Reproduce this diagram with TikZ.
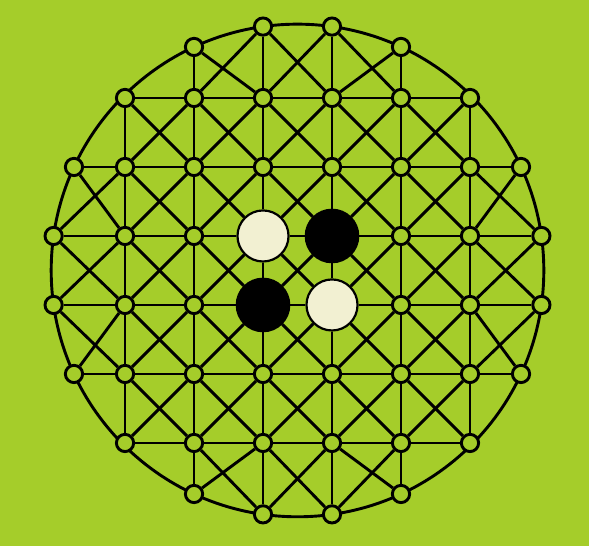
\documentclass[tikz,border=0pt]{standalone}
\usetikzlibrary{positioning}
\definecolor{boardgreen}{RGB}{165,205,42}
\definecolor{stonecream}{RGB}{242,240,210}

\begin{document}
\begin{tikzpicture}[line width=1.2pt,
    spot/.style={circle, draw, fill=boardgreen, inner sep=0pt, minimum size=0.25cm},
    whitestone/.style={circle, draw, line width=0.9pt, fill=stonecream, inner sep=0pt, minimum size=0.74cm},
    blackstone/.style={circle, draw, fill=black, inner sep=0pt, minimum size=0.75cm},
]
\def\R{3.57}
\fill[boardgreen, use as bounding box] (-4.312,-3.993) rectangle (4.225,3.920);
% rim of the board
\draw (0,0) circle (\R);
% points, the outer ones sit on the rim
\foreach \r/\lo/\hi in {0/2/5,1/1/6,2/0/7,3/0/7,4/0/7,5/0/7,6/1/6,7/2/5}
  \foreach \c in {\lo,...,\hi}{
    \pgfmathsetmacro\px{\c-3.5}
    \pgfmathsetmacro\py{3.5-\r}
    \pgfmathsetmacro\px{\c==0 ? -sqrt(\R*\R-\py*\py) : (\c==7 ? sqrt(\R*\R-\py*\py) : \px)}
    \pgfmathsetmacro\py{\r==0 ? sqrt(\R*\R-\px*\px) : (\r==7 ? -sqrt(\R*\R-\px*\px) : \py)}
    \pgfmathtruncatemacro\stone{and(or(\r==3,\r==4),or(\c==3,\c==4))}
    \ifnum\stone=0 \node[spot] (n-\c-\r) at (\px,\py) {};\fi
  }
% stones in the middle
\node[whitestone] (n-3-3) at (-0.5,0.5) {};
\node[blackstone] (n-4-3) at (0.5,0.5) {};
\node[blackstone] (n-3-4) at (-0.5,-0.5) {};
\node[whitestone] (n-4-4) at (0.5,-0.5) {};
% rows
\foreach \r/\lo/\hi in {1/1/5,2/0/6,3/0/6,4/0/6,5/0/6,6/1/5}
  \foreach \c in {\lo,...,\hi}{
    \pgfmathtruncatemacro\cc{\c+1}
    \draw (n-\c-\r) -- (n-\cc-\r);
  }
% columns
\foreach \c/\lo/\hi in {1/1/5,2/0/6,3/0/6,4/0/6,5/0/6,6/1/5}
  \foreach \r in {\lo,...,\hi}{
    \pgfmathtruncatemacro\rr{\r+1}
    \draw (n-\c-\r) -- (n-\c-\rr);
  }
% crosses in every full cell
\foreach \r/\lo/\hi in {0/2/4,1/1/5,2/0/6,3/0/6,4/0/6,5/1/5,6/2/4}
  \foreach \c in {\lo,...,\hi}{
    \pgfmathtruncatemacro\cc{\c+1}
    \pgfmathtruncatemacro\rr{\r+1}
    \draw (n-\c-\r) -- (n-\cc-\rr);
    \draw (n-\cc-\r) -- (n-\c-\rr);
  }
\end{tikzpicture}
\end{document}
